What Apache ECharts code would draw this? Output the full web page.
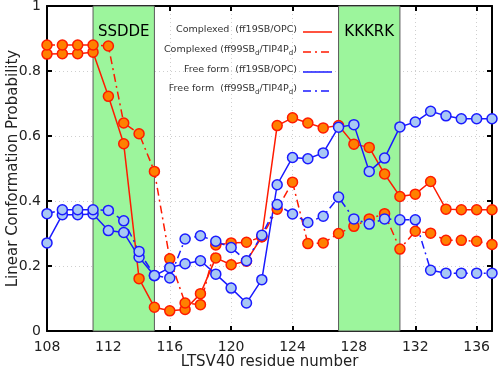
<!DOCTYPE html>
<html>
<head>
<meta charset="utf-8">
<script src="https://cdn.jsdelivr.net/npm/echarts@6/dist/echarts.min.js"></script>
<style>
  html, body { margin: 0; padding: 0; background: #fff; }
  #chart { width: 498px; height: 377px; }
</style>
</head>
<body>
<div id="chart"></div>
<script>
// residue numbers on x
const residues = [108, 109, 110, 111, 112, 113, 114, 115, 116, 117, 118, 119, 120, 121, 122,
  123, 124, 125, 126, 127, 128, 129, 130, 131, 132, 133, 134, 135, 136, 137];

// Complexed (ff19SB/OPC)
const complexOPC = [0.852, 0.853, 0.853, 0.858, 0.722, 0.576, 0.161, 0.073, 0.062, 0.066, 0.115, 0.225, 0.204, 0.215, 0.29,
  0.632, 0.656, 0.64, 0.625, 0.632, 0.575, 0.565, 0.483, 0.414, 0.421, 0.46, 0.375, 0.373, 0.373, 0.373];
// Complexed (ff99SBd/TIP4Pd)
const complexTIP = [0.88, 0.88, 0.88, 0.88, 0.877, 0.64, 0.607, 0.491, 0.222, 0.086, 0.081, 0.265, 0.271, 0.273, 0.29,
  0.375, 0.458, 0.269, 0.271, 0.30, 0.322, 0.345, 0.361, 0.252, 0.307, 0.301, 0.279, 0.279, 0.276, 0.266];
// Free form (ff19SB/OPC)
const freeOPC = [0.271, 0.358, 0.358, 0.36, 0.309, 0.303, 0.227, 0.17, 0.195, 0.207, 0.216, 0.175, 0.132, 0.086, 0.158,
  0.45, 0.534, 0.53, 0.548, 0.627, 0.635, 0.491, 0.532, 0.628, 0.643, 0.676, 0.662, 0.653, 0.653, 0.653];
// Free form (ff99SBd/TIP4Pd)
const freeTIP = [0.361, 0.373, 0.373, 0.373, 0.371, 0.339, 0.245, 0.171, 0.163, 0.283, 0.293, 0.276, 0.257, 0.216, 0.295,
  0.389, 0.36, 0.334, 0.353, 0.412, 0.345, 0.329, 0.345, 0.342, 0.342, 0.187, 0.178, 0.178, 0.178, 0.178];

// highlighted motifs
const regions = [
  { name: 'SSDDE', from: 111, to: 115 },
  { name: 'KKKRK', from: 127, to: 131 },
];

const legendNames = [
  '{a|Complexed  (ff19SB/OPC)}',
  '{a|Complexed (ff99SB}{s|d}{a|/TIP4P}{s|d}{a|)}',
  '{a|Free form  (ff19SB/OPC)}',
  '{a|Free form  (ff99SB}{s|d}{a|/TIP4P}{s|d}{a|)}',
];

const font = 'DejaVu Sans';
const RED = '#ff1a00';
const BLUE = '#1a1aff';
const dashDot = [8, 4, 2, 4];

const myChart = echarts.init(document.getElementById('chart'));

const toPairs = (vals) => residues.map((r, i) => [r, vals[i]]);

const makeSeries = (name, vals, color, fill, dashed) => ({
  name: name,
  type: 'line',
  data: toPairs(vals),
  symbol: 'circle',
  symbolSize: 10,
  lineStyle: { color: color, width: 1.5, type: dashed ? dashDot : 'solid' },
  itemStyle: { color: fill, borderColor: color, borderWidth: 1.5 },
  emphasis: { disabled: true },
  animation: false,
});

const axisCommon = {
  type: 'value',
  nameMoveOverlap: false,
  axisLine: { show: true, onZero: false, lineStyle: { color: '#000', width: 2 } },
  axisTick: { show: true, inside: true, length: 5, lineStyle: { color: '#000', width: 2 } },
};

const markSeries = makeSeries('Complexed (ff19SB/OPC)', complexOPC, RED, '#ff8000', false);
markSeries.markArea = {
  silent: true,
  itemStyle: { color: '#9cf59c', borderColor: '#5a5a5a', borderWidth: 1 },
  label: { show: true, position: 'insideTop', distance: 19, color: '#000', fontFamily: font, fontSize: 15 },
  data: regions.map((r) => [{ name: r.name, xAxis: r.from }, { xAxis: r.to }]),
};

// legend drawn by hand (right aligned text, sample line to the right)
const legendY = [32, 52, 72, 91];
const legendStyles = [
  { color: RED, dash: null },
  { color: RED, dash: dashDot },
  { color: BLUE, dash: null },
  { color: BLUE, dash: dashDot },
];
const graphics = [];
legendNames.forEach((txt, i) => {
  graphics.push({
    type: 'text',
    right: 498 - 297,
    top: legendY[i] - 7,
    z: 100,
    style: {
      text: txt,
      align: 'right',
      fill: '#333',
      rich: {
        a: { fontFamily: font, fontSize: 9.5, fill: '#333' },
        s: { fontFamily: font, fontSize: 7, fill: '#333', padding: [6, 0, 0, 0] },
      },
    },
  });
  graphics.push({
    type: 'line',
    z: 100,
    shape: { x1: 303, y1: legendY[i], x2: 332, y2: legendY[i] },
    style: { stroke: legendStyles[i].color, lineWidth: 1.5, lineDash: legendStyles[i].dash },
  });
});

const option = {
  backgroundColor: '#fff',
  animation: false,
  grid: { left: 47, right: 6, top: 6, bottom: 46, outerBoundsMode: 'none', containLabel: false },
  xAxis: [
    Object.assign({}, axisCommon, {
      min: 108,
      max: 137,
      interval: 4,
      name: 'LTSV40 residue number',
      nameLocation: 'middle',
      nameGap: 24,
      nameTextStyle: { fontFamily: font, fontSize: 15, color: '#222', verticalAlign: 'top' },
      axisLabel: {
        fontFamily: font,
        fontSize: 14,
        color: '#222',
        margin: 9,
        formatter: (v) => (v % 4 === 0 ? String(v) : ''),
      },
      splitLine: { show: true, lineStyle: { color: '#cfcfcf', type: [1, 3] } },
    }),
    Object.assign({}, axisCommon, {
      position: 'top',
      min: 108,
      max: 137,
      interval: 4,
      axisLabel: { show: false },
      splitLine: { show: false },
    }),
  ],
  yAxis: [
    Object.assign({}, axisCommon, {
      min: 0,
      max: 1,
      interval: 0.2,
      name: 'Linear Conformation Probability',
      nameLocation: 'middle',
      nameGap: 26,
      nameTextStyle: { fontFamily: font, fontSize: 15, color: '#222' },
      axisLabel: {
        fontFamily: font,
        fontSize: 14,
        color: '#222',
        margin: 6,
        formatter: (v) => (v === 0 ? '0' : v === 1 ? '1' : v.toFixed(1)),
      },
      splitLine: { show: true, lineStyle: { color: '#cfcfcf', type: [1, 3] } },
    }),
    Object.assign({}, axisCommon, {
      position: 'right',
      min: 0,
      max: 1,
      interval: 0.2,
      axisLabel: { show: false },
      splitLine: { show: false },
    }),
  ],
  graphic: graphics,
  series: [
    markSeries,
    makeSeries('Complexed (ff99SBd/TIP4Pd)', complexTIP, RED, '#ff8000', true),
    makeSeries('Free form (ff19SB/OPC)', freeOPC, BLUE, '#a8c8f4', false),
    makeSeries('Free form (ff99SBd/TIP4Pd)', freeTIP, BLUE, '#a8c8f4', true),
  ],
};

myChart.setOption(option);
</script>
</body>
</html>
